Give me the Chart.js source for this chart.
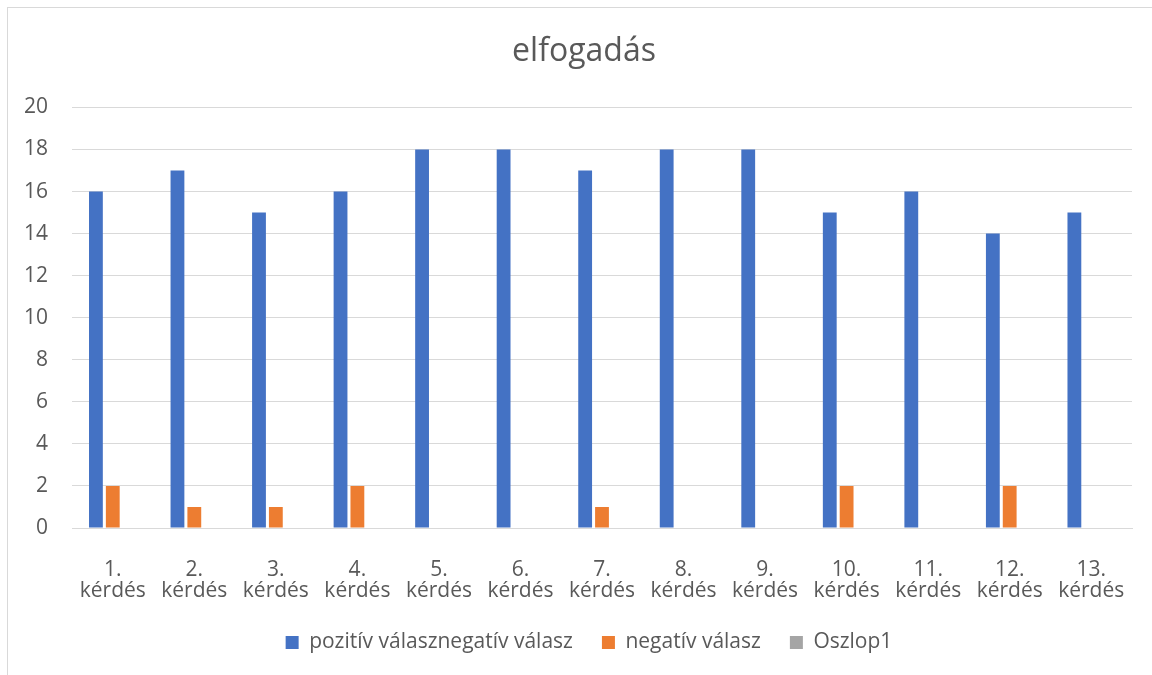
<!DOCTYPE html>
<html>
<head>
<meta charset="utf-8">
<script src="https://cdn.jsdelivr.net/npm/chart.js@4/dist/chart.umd.min.js"></script>
<style>
    html, body { margin: 0; padding: 0; background: #fff; }
    #frame {
        position: absolute; left: 7px; top: 7px; width: 1160px; height: 680px;
        border-left: 1px solid #d9d9d9; border-top: 1px solid #d9d9d9;
    }
    #wrap { position: absolute; left: 0; top: 0; width: 1152px; height: 675px; }
</style>
</head>
<body>
<div id="frame"></div>
<div id="wrap"><canvas id="chart"></canvas></div>
<script>
    // ADATOK
    var kerdesek = [
        ['1.', 'kérdés'], ['2.', 'kérdés'], ['3.', 'kérdés'], ['4.', 'kérdés'],
        ['5.', 'kérdés'], ['6.', 'kérdés'], ['7.', 'kérdés'], ['8.', 'kérdés'],
        ['9.', 'kérdés'], ['10.', 'kérdés'], ['11.', 'kérdés'], ['12.', 'kérdés'],
        ['13.', 'kérdés']
    ];
    var pozitiv = [16, 17, 15, 16, 18, 18, 17, 18, 18, 15, 16, 14, 15];
    var negativ = [2, 1, 1, 2, 0, 0, 1, 0, 0, 2, 0, 2, 0];
    var oszlop1 = [0, 0, 0, 0, 0, 0, 0, 0, 0, 0, 0, 0, 0];

    var szurke = '#595959';
    var fontCsalad = '"Open Sans", "Liberation Sans", sans-serif';

    Chart.defaults.font.family = fontCsalad;
    Chart.defaults.color = szurke;

    // jelmagyarazat fix magassaggal, cim es jelmagyarazat kicsit jobbra tolva (mint Excelben)
    var elrendezes = {
        id: 'elrendezes',
        beforeInit: function (chart) {
            var origFit = chart.legend.fit;
            chart.legend.fit = function () {
                origFit.bind(chart.legend)();
                this.height = 62;
            };
        },
        beforeDraw: function (chart) {
            chart.legend.left += 23;
            chart.legend.right += 23;
            chart.titleBlock.left += 18;
            chart.titleBlock.right += 18;
        }
    };

    new Chart(document.getElementById('chart'), {
        type: 'bar',
        data: {
            labels: kerdesek,
            datasets: [
                { label: 'pozitív válasznegatív válasz', data: pozitiv, backgroundColor: '#4472c4' },
                { label: 'negatív válasz', data: negativ, backgroundColor: '#ed7d31' },
                { label: 'Oszlop1', data: oszlop1, backgroundColor: '#a5a5a5' }
            ]
        },
        plugins: [elrendezes],
        options: {
            responsive: true,
            maintainAspectRatio: false,
            animation: false,
            barPercentage: 0.82,
            categoryPercentage: 0.62,
            layout: { padding: { left: 0, right: 20, top: 20, bottom: 10 } },
            plugins: {
                title: {
                    display: true,
                    text: 'elfogadás',
                    color: szurke,
                    font: { size: 32, weight: 'normal' },
                    padding: { top: 13, bottom: 36 }
                },
                legend: {
                    position: 'bottom',
                    labels: {
                        boxWidth: 13,
                        boxHeight: 13,
                        padding: 29,
                        color: szurke,
                        font: { size: 21 }
                    }
                },
                tooltip: { enabled: false }
            },
            scales: {
                x: {
                    grid: { display: false },
                    border: { color: '#d9d9d9', width: 1 },
                    ticks: { font: { size: 21, lineHeight: 1.0 }, color: szurke, maxRotation: 0, padding: 24 },
                    afterFit: function (scale) { scale.height = 75; }
                },
                y: {
                    min: 0,
                    max: 20,
                    ticks: { stepSize: 2, font: { size: 21 }, color: szurke, padding: 24 },
                    grid: { color: '#d9d9d9', drawTicks: false },
                    border: { display: false },
                    afterFit: function (scale) { scale.width = 72; }
                }
            }
        }
    });
</script>
</body>
</html>
